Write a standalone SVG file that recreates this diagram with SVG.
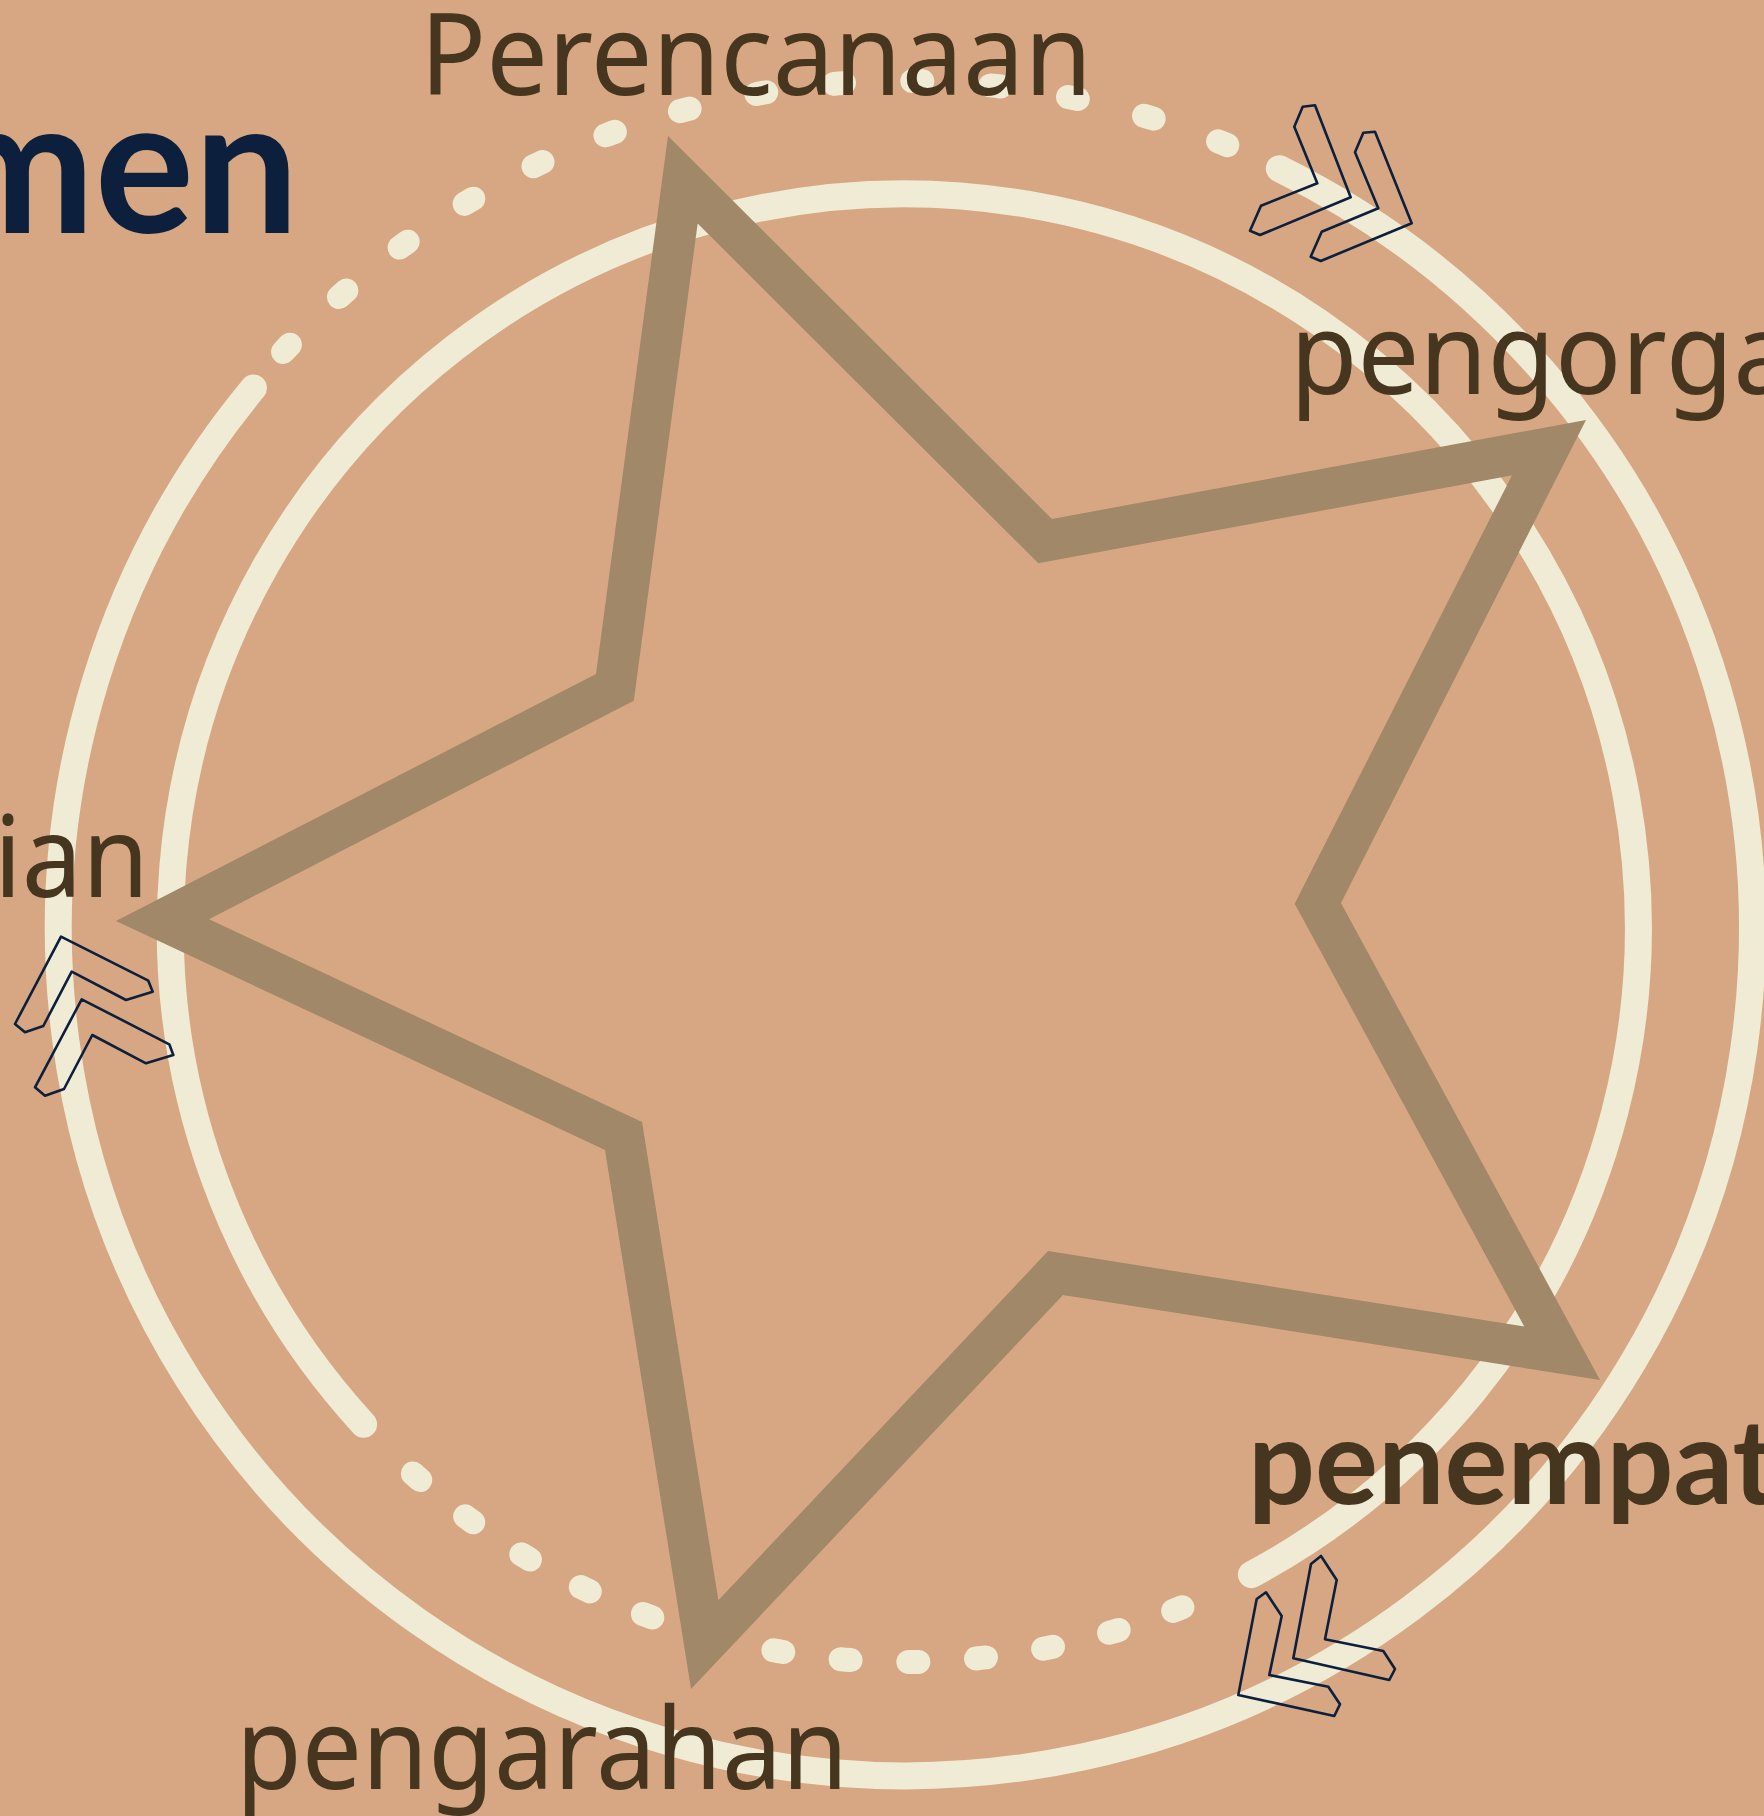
<svg xmlns="http://www.w3.org/2000/svg" width="1764" height="1816" viewBox="0 0 1764 1816">
<style>
.solid{fill:none;stroke:#F0EBD4;stroke-width:27;stroke-linecap:round}
.dots{fill:none;stroke:#F0EBD4;stroke-width:24;stroke-linecap:round}
.chev{fill:none;stroke:#0C1F3D;stroke-width:2.6;stroke-linejoin:round}
.lbl{font-family:"Noto Sans","DejaVu Sans",sans-serif;font-size:114px;fill:#46351F}
.bold{font-family:Lato,"Noto Sans",sans-serif;font-weight:700;fill:#46351F}
</style>
<defs>
<clipPath id="starclip"><polygon points="668,136 1052,519 1586,420 1341,903 1600,1380 1063,1295 691,1689 605,1150 116,921 596,674"/></clipPath>
</defs>
<rect width="1764" height="1816" fill="#D6A782"/>
<g id="connectors">
<path class="solid" d="M1279.3,168.7 A847,847 0 1 1 253.4,388.0"/>
<path class="dots" stroke-dasharray="10 68.35" d="M283.1,351.9 A847,847 0 0 1 1227.3,145.1"/>
<path class="solid" d="M363.6,1424.3 A734,734 0 1 1 1251.4,1574.6"/>
<path class="dots" stroke-dasharray="10 57.79" d="M1182.4,1607.2 A734,734 0 0 1 412.9,1473.5"/>
</g>
<g id="star">
<polygon points="668,136 1052,519 1586,420 1341,903 1600,1380 1063,1295 691,1689 605,1150 116,921 596,674" fill="none" stroke="#A08868" stroke-width="82" stroke-linejoin="miter" stroke-miterlimit="10" clip-path="url(#starclip)"/>
</g>
<g id="chevron-top-right">
<polygon class="chev" points="1302.7,106.7 1315,105.3 1350.7,197.3 1260,235 1250,230.7 1261,205.7 1317.3,183.3 1294.3,126.7"/>
<polygon class="chev" points="1363.3,132.7 1375,131.7 1411.7,223.3 1320.7,261 1310.7,256.7 1321.7,231.7 1378.3,208.3 1355,152.3"/>
</g>
<g id="chevron-left">
<polygon class="chev" points="61,936.7 148.3,980.7 152.7,991.7 126,1000 71.7,971.7 43.3,1026 25,1032.3 15,1024"/>
<polygon class="chev" points="81.7,999.3 169.3,1044.3 173.3,1055 146,1063.3 92.3,1035 64,1089 45,1095.7 35,1087.3"/>
</g>
<g id="chevron-bottom-right">
<polygon class="chev" points="1321,1556 1336.7,1580 1325,1639.3 1383.3,1651 1395,1669 1389.3,1680 1293.3,1658.3 1311,1564"/>
<polygon class="chev" points="1266,1592.3 1281.7,1616 1269.3,1675 1328.3,1686.7 1340,1704.3 1334.3,1716 1238.3,1695 1256.7,1599"/>
</g>
<g id="title">
<text x="-61" y="233" font-family="Lato,'Noto Sans',sans-serif" font-weight="700" font-size="190" fill="#0C1F3D" textLength="360" lengthAdjust="spacingAndGlyphs">men</text>
</g>
<g id="node-perencanaan">
<text class="lbl" x="420" y="95" textLength="672" lengthAdjust="spacingAndGlyphs">Perencanaan</text>
</g>
<g id="node-pengorganisasian">
<text class="lbl" x="1290" y="394" textLength="505" lengthAdjust="spacingAndGlyphs">pengorga</text>
</g>
<g id="node-penempatan">
<text class="bold" x="1248" y="1504" font-size="118">penempat</text>
</g>
<g id="node-pengarahan">
<text class="lbl" x="236" y="1789" textLength="612" lengthAdjust="spacingAndGlyphs">pengarahan</text>
</g>
<g id="node-pengendalian">
<text class="lbl" x="-6" y="897" textLength="155" lengthAdjust="spacingAndGlyphs">ian</text>
</g>
</svg>
